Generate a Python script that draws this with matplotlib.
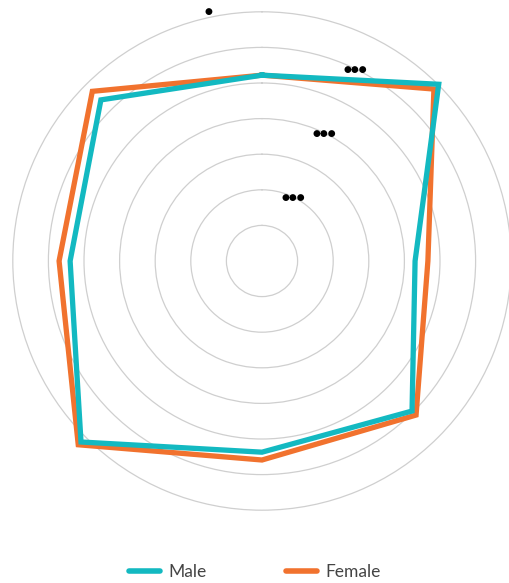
import numpy as np
import matplotlib
matplotlib.use('Agg')
import matplotlib.pyplot as plt
from matplotlib.lines import Line2D

# Data (8 axes, clockwise from top)
categories = ['c1', 'c2', 'c3', 'c4', 'c5', 'c6', 'c7', 'c8']
male = [5.22, 7.02, 4.30, 5.96, 5.37, 7.19, 5.39, 6.40]
female = [5.22, 6.83, 4.66, 6.12, 5.59, 7.30, 5.70, 6.74]
grid_levels = [1, 2, 3, 4, 5, 6, 7]
tick_label_levels = [2, 4, 6]

teal = '#13b9c1'
orange = '#f1722e'

plt.rcParams['font.family'] = ['Lato', 'DejaVu Sans']

fig = plt.figure(figsize=(5.10, 5.83), dpi=100)
px = 35.6  # pixels per unit
rmax = 7.4
R = rmax * px
cx, cy = 262, 583 - 261
ax = fig.add_axes([(cx - R) / 510, (cy - R) / 583, 2 * R / 510, 2 * R / 583],
                  projection='polar')
ax.set_theta_zero_location('N')
ax.set_theta_direction(-1)
ax.set_ylim(0, rmax)
ax.spines['polar'].set_visible(False)
ax.patch.set_alpha(0)
ax.set_xticks([])
ax.set_yticks(grid_levels)
ax.set_yticklabels([])
ax.yaxis.grid(True, color='#cfcfcf', linewidth=0.9)
ax.xaxis.grid(False)

angles = np.linspace(0, 2 * np.pi, len(categories), endpoint=False)
closed = np.append(angles, angles[0])

ax.plot(closed, female + female[:1], color=orange, linewidth=3.8, solid_joinstyle='miter')
ax.plot(closed, male + male[:1], color=teal, linewidth=3.8, solid_joinstyle='miter')

# truncated radial tick labels
for lv in tick_label_levels:
    ax.text(np.radians(26), lv - 0.02, '●●●', fontsize=6.5, color='black',
            ha='center', va='center', family='DejaVu Sans')
ax.text(np.radians(-12), 7.17, '●', fontsize=6.5, color='black',
        ha='center', va='center', family='DejaVu Sans')

handles = [Line2D([], [], color=teal, linewidth=4, solid_capstyle='round'),
           Line2D([], [], color=orange, linewidth=4, solid_capstyle='round')]
fig.legend(handles, ['Male', 'Female'], loc='lower center', ncol=2, frameon=False,
           bbox_to_anchor=(0.5, -0.022), fontsize=12.5, handlelength=1.75,
           handletextpad=0.5, columnspacing=4.6, labelcolor='#444444')

fig.savefig('out.png', dpi=100)
